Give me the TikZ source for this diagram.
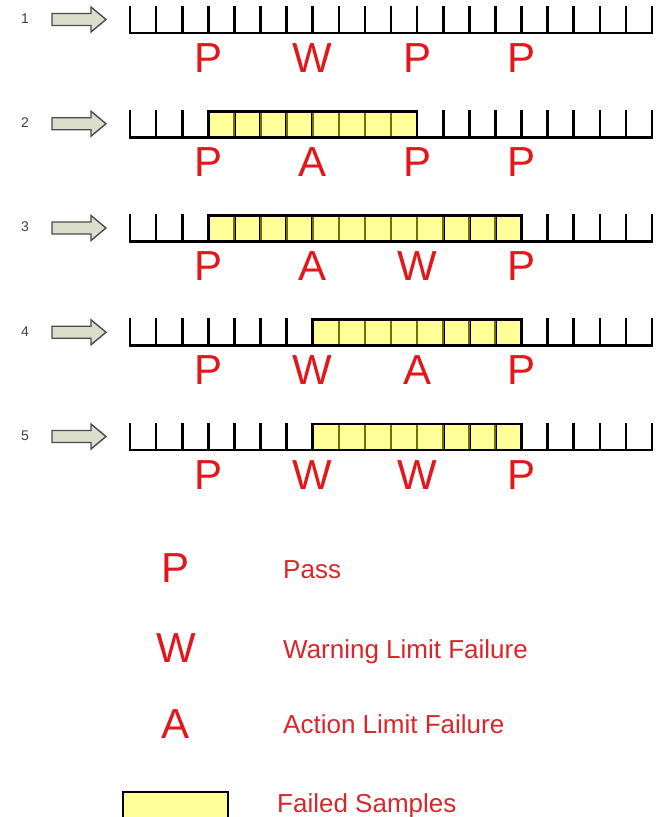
\documentclass[tikz,border=0pt]{standalone}
\usepackage{fontspec}
\setmainfont{Liberation Sans}
\definecolor{lred}{HTML}{E3171B}
\definecolor{legred}{HTML}{D9262A}
\definecolor{fillY}{HTML}{FFFF99}
\definecolor{cellline}{HTML}{707010}
\definecolor{arrfill}{HTML}{DCDECB}
\definecolor{arrline}{HTML}{4A4A4A}
\begin{document}
\begin{tikzpicture}[x=1pt,y=-1pt,
  letter/.style={text=lred, font=\fontsize{42}{42}\selectfont, inner sep=0pt, anchor=base},
  legtext/.style={text=legred, font=\fontsize{26}{26}\selectfont, inner sep=0pt, anchor=base west},
  rownum/.style={text=black!75, font=\fontsize{14}{14}\selectfont, inner sep=0pt},
  tickline/.style={line width=2.6pt, line cap=rect, line join=miter},
  cellln/.style={draw=cellline, line width=2pt},
  blockarrow/.style={fill=arrfill, draw=arrline, line width=1.4pt, line join=miter}]
\useasboundingbox (0,0) rectangle (662,817);
\clip (0,0) rectangle (662,817);
\foreach \i/\la/\lb/\lc/\ld/\bs/\be in {1/P/W/P/P/0/0, 2/P/A/P/P/3/11, 3/P/A/W/P/3/15, 4/P/W/A/P/7/15, 5/P/W/W/P/7/15}{
  \pgfmathsetmacro\yb{33+104.25*(\i-1)}
  \pgfmathsetmacro\yt{\yb-26}
  \pgfmathsetmacro\yc{\yb-13.5}
  % arrow and number
  \draw[blockarrow] (52,{\yc-6}) -- (91,{\yc-6}) -- (91,{\yc-12.5}) -- (106,\yc) -- (91,{\yc+12.5}) -- (91,{\yc+6}) -- (52,{\yc+6}) -- cycle;
  \node[rownum] (num\i) at (25,{\yc-1}) {\i};
  % box fill
  \ifnum\bs>0
    \fill[fillY] ({130+26.1*\bs},\yt) rectangle ({130+26.1*\be},\yb);
  \fi
  % baseline and ticks
  \draw[tickline] (130,\yb) -- (652,\yb);
  \foreach \k in {0,...,20}{
    \draw[tickline] ({130+26.1*\k},\yt) -- ({130+26.1*\k},\yb);
  }
  \ifnum\bs>0
    \pgfmathtruncatemacro\bsa{\bs+1}
    \pgfmathtruncatemacro\bsb{\be-1}
    \foreach \k in {\bsa,...,\bsb}{
      \draw[cellln] ({130+26.1*\k},{\yt+1.3}) -- ({130+26.1*\k},{\yb-1.3});
    }
    \draw[tickline] ({130+26.1*\bs},\yt) rectangle ({130+26.1*\be},\yb);
  \fi
  % letters
  \node[letter] (L\i-1) at (208.3,{\yb+39}) {\la};
  \node[letter] (L\i-2) at (312.7,{\yb+39}) {\lb};
  \node[letter] (L\i-3) at (417.1,{\yb+39}) {\lc};
  \node[letter] (L\i-4) at (521.5,{\yb+39}) {\ld};
}
% legend
\node[letter] (legP) at (176,582) {P};
\node[letter] (legW) at (176,662) {W};
\node[letter] (legA) at (176,738) {A};
\node[legtext] (txtP) at (283,578) {Pass};
\node[legtext] (txtW) at (283,658) {Warning Limit Failure};
\node[legtext] (txtA) at (283,733) {Action Limit Failure};
\draw[line width=2.5pt, fill=fillY] (123,792) rectangle (228,830);
\node[legtext] (txtF) at (277,812) {Failed Samples};
\end{tikzpicture}
\end{document}
